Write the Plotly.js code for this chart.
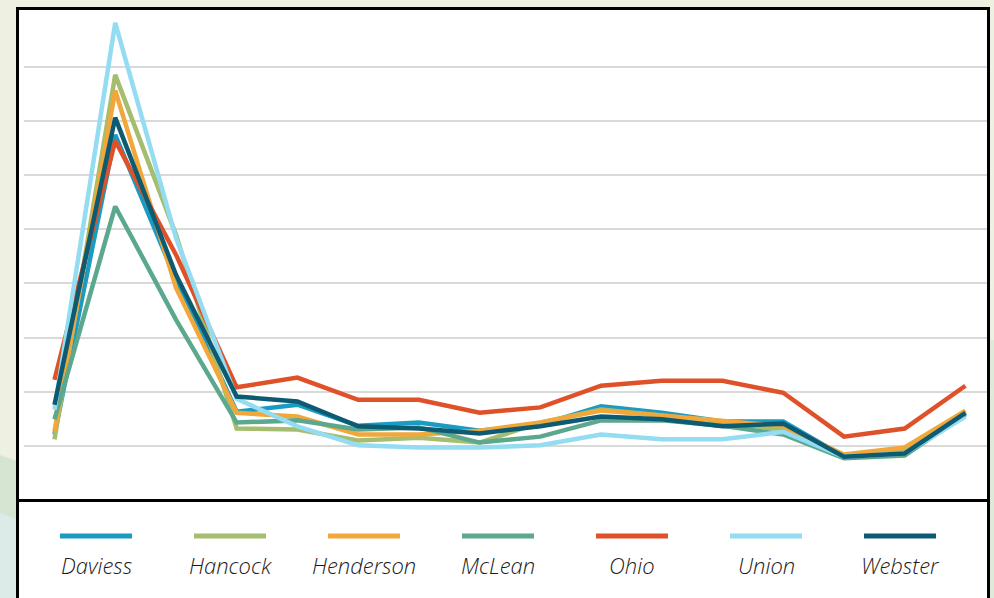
<!DOCTYPE html>
<html>
<head>
<meta charset="utf-8">
<script src="https://cdn.plot.ly/plotly-3.0.1.min.js"></script>
<style>
  html, body { margin: 0; padding: 0; background: #eef0e1; }
  #chart { width: 994px; height: 598px; }
</style>
</head>
<body>
<div id="chart"></div>
<script>
// ---- data (unit = one gridline step) ----
var categories = ["1","2","3","4","5","6","7","8","9","10","11","12","13","14","15","16"];
var seriesNames = ["Daviess","Hancock","Henderson","McLean","Ohio","Union","Webster"];
var seriesColors = ["#1b9bc2","#a4bd6f","#f1a73a","#5ba88f","#df5128","#94dcf2","#0d5b72"];

var daviess   = [1.21, 6.74, 4.07, 1.63, 1.76, 1.37, 1.43, 1.28, 1.39, 1.73, 1.61, 1.45, 1.45, 0.80, 0.86, 1.60];
var hancock   = [1.12, 7.85, 4.90, 1.32, 1.30, 1.10, 1.15, 1.06, 1.43, 1.67, 1.56, 1.43, 1.30, 0.80, 0.91, 1.63];
var henderson = [1.26, 7.56, 3.92, 1.61, 1.54, 1.21, 1.21, 1.28, 1.43, 1.65, 1.56, 1.47, 1.36, 0.84, 0.97, 1.65];
var mclean    = [1.49, 5.42, 3.33, 1.43, 1.47, 1.30, 1.34, 1.06, 1.17, 1.47, 1.47, 1.37, 1.21, 0.77, 0.82, 1.58];
var ohio      = [2.22, 6.63, 4.53, 2.08, 2.26, 1.85, 1.85, 1.61, 1.71, 2.11, 2.20, 2.20, 1.98, 1.17, 1.32, 2.11];
var union     = [1.67, 8.81, 4.84, 1.87, 1.36, 1.01, 0.97, 0.97, 1.01, 1.21, 1.12, 1.12, 1.26, 0.80, 0.86, 1.54];
var webster   = [1.76, 7.06, 4.16, 1.91, 1.82, 1.36, 1.32, 1.23, 1.36, 1.54, 1.49, 1.36, 1.41, 0.80, 0.86, 1.61];

var seriesValues = [daviess, hancock, henderson, mclean, ohio, union, webster];

// ---- layout geometry (pixels) ----
var W = 994, H = 598;
var M = { l: 24, r: 7, t: 12, b: 98 };
var pw = W - M.l - M.r, ph = H - M.t - M.b;
function px(x) { return (x - M.l) / pw; }
function py(y) { return (H - M.b - y) / ph; }

var traces = seriesValues.map(function (vals, i) {
  return {
    type: "scatter",
    mode: "lines",
    x: categories,
    y: vals,
    name: seriesNames[i],
    line: { color: seriesColors[i], width: 4.5 },
    hoverinfo: "name+y"
  };
});

var shapes = [
  // background decoration on the left strip
  { type: "path", xref: "paper", yref: "paper",
    path: "M " + px(0) + "," + py(455) + " L " + px(17) + "," + py(461) + " L " + px(17) + "," + py(520) + " L " + px(0) + "," + py(513) + " Z",
    fillcolor: "#d5e5d1", line: { width: 0 }, layer: "below" },
  { type: "path", xref: "paper", yref: "paper",
    path: "M " + px(0) + "," + py(513) + " L " + px(17) + "," + py(520) + " L " + px(17) + "," + py(600) + " L " + px(0) + "," + py(600) + " Z",
    fillcolor: "#dcebe8", line: { width: 0 }, layer: "below" },
  { type: "rect", xref: "paper", yref: "paper",
    x0: px(989), x1: px(995), y0: py(600), y1: py(340),
    fillcolor: "#dfe9da", line: { width: 0 }, layer: "below" },
  // white framed panel
  { type: "rect", xref: "paper", yref: "paper",
    x0: px(17.5), x1: px(988.5), y0: py(610), y1: py(8.5),
    fillcolor: "#ffffff", line: { color: "#000000", width: 3 }, layer: "below" },
  // separator between plot and legend
  { type: "line", xref: "paper", yref: "paper",
    x0: px(17.5), x1: px(988.5), y0: py(500.5), y1: py(500.5),
    line: { color: "#000000", width: 3 }, layer: "above" }
];

var annotations = [];
seriesNames.forEach(function (nm, i) {
  var cx = 96 + i * 134;
  shapes.push({ type: "line", xref: "paper", yref: "paper",
    x0: px(cx - 36), x1: px(cx + 36), y0: py(536), y1: py(536),
    line: { color: seriesColors[i], width: 5 }, layer: "above" });
  annotations.push({ xref: "paper", yref: "paper", x: px(cx), y: py(565),
    xanchor: "center", yanchor: "middle", showarrow: false, text: nm,
    font: { family: "Open Sans, sans-serif", size: 22, color: "#1a1a1a", style: "italic", weight: 300 } });
});

var layout = {
  width: W, height: H,
  margin: M,
  paper_bgcolor: "#eef0e1",
  plot_bgcolor: "rgba(0,0,0,0)",
  showlegend: false,
  xaxis: {
    type: "category",
    range: [-0.502, 15.355],
    showgrid: false, zeroline: false, showline: false,
    showticklabels: false, ticks: ""
  },
  yaxis: {
    range: [0, 9.01],
    dtick: 1,
    showgrid: true, gridcolor: "#d9d9d9", gridwidth: 2,
    zeroline: false, showline: false,
    showticklabels: false, ticks: ""
  },
  shapes: shapes,
  annotations: annotations
};

Plotly.newPlot("chart", traces, layout, { displayModeBar: false, staticPlot: true });
</script>
</body>
</html>
